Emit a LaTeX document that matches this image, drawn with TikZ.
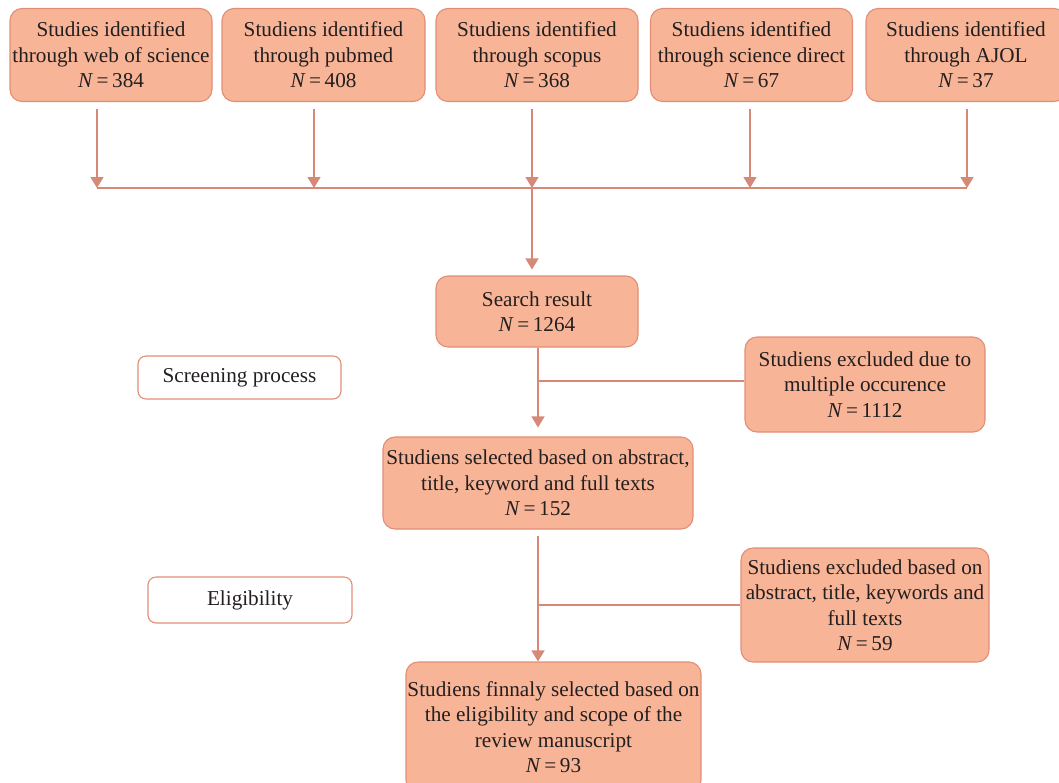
\documentclass[tikz,border=0pt]{standalone}
\usepackage{fontspec}
\setmainfont{Liberation Serif}
\usetikzlibrary{arrows.meta,calc}
\definecolor{boxfill}{RGB}{247,180,150}
\definecolor{boxdraw}{RGB}{226,142,118}
\definecolor{linec}{RGB}{214,137,118}
\definecolor{txt}{RGB}{35,31,32}
\tikzset{
  box/.style={draw=boxdraw, line width=1.1pt, fill=boxfill, rounded corners=12pt,
    align=center, text=txt, inner sep=0pt, font=\fontsize{21.2}{25.5}\selectfont},
  wbox/.style={draw=boxdraw, line width=1.1pt, fill=white, rounded corners=8pt,
    align=center, text=txt, inner sep=0pt, font=\fontsize{21.2}{25.5}\selectfont},
  conn/.style={draw=linec, line width=1.4pt},
  arr/.style={conn, -{Triangle[width=13pt,length=11pt]}}
}
\newcommand{\NN}[1]{\textit{N}\,=\,#1}
\begin{document}
\begin{tikzpicture}[x=1pt,y=-1pt]
\useasboundingbox (0,0) rectangle (1059,782);
% top boxes
\node[box, minimum width=202pt, minimum height=93pt] (t1) at (111,55) {Studies identified\\through web of science\\\NN{384}};
\node[box, minimum width=203pt, minimum height=93pt] (t2) at (323.5,55) {Studiens identified\\through pubmed\\\NN{408}};
\node[box, minimum width=202pt, minimum height=93pt] (t3) at (537,55) {Studiens identified\\through scopus\\\NN{368}};
\node[box, minimum width=202pt, minimum height=93pt] (t4) at (751.5,55) {Studiens identified\\through science direct\\\NN{67}};
\node[box, minimum width=200pt, minimum height=93pt] (t5) at (966,55) {Studiens identified\\through AJOL\\\NN{37}};
% junction points
\coordinate (j1) at (97,188);
\coordinate (j2) at (314,188);
\coordinate (j3) at (532,188);
\coordinate (j4) at (750,188);
\coordinate (j5) at (967,188);
\draw[arr, shorten <=7pt] (j1 |- t1.south) -- (j1);
\draw[arr, shorten <=7pt] (j2 |- t2.south) -- (j2);
\draw[arr, shorten <=7pt] (j3 |- t3.south) -- (j3);
\draw[arr, shorten <=7pt] (j4 |- t4.south) -- (j4);
\draw[arr, shorten <=7pt] (j5 |- t5.south) -- (j5);
\draw[conn] (j1) -- (j5);
% middle
\node[box, minimum width=202pt, minimum height=71pt] (search) at (537,311.5) {Search result\\\NN{1264}};
\draw[arr, shorten >=6pt] (j3) -- (j3 |- search.north);
\node[wbox, minimum width=203pt, minimum height=43pt] (screen) at (239.5,377.5) {Screening process};
\node[box, minimum width=240pt, minimum height=95pt] (excl1) at (865,384.5) {Studiens excluded due to\\multiple occurence\\\NN{1112}};
\node[box, minimum width=310pt, minimum height=92pt] (sel) at (538,483) {Studiens selected based on abstract,\\title, keyword and full texts\\\NN{152}};
\coordinate (b1) at (538,381);
\draw[arr, shorten >=9pt] (b1 |- search.south) -- (b1 |- sel.north);
\draw[conn] (b1) -- (b1 -| excl1.west);
% lower
\node[wbox, minimum width=204pt, minimum height=46pt] (elig) at (250,600) {Eligibility};
\node[box, minimum width=248pt, minimum height=114pt] (excl2) at (865,605) {Studiens excluded based on\\abstract, title, keywords and\\full texts\\\NN{59}};
\node[box, minimum width=295pt, minimum height=130pt] (final) at (553.5,727) {Studiens finnaly selected based on\\the eligibility and scope of the\\review manuscript\\\NN{93}};
\coordinate (b2) at (538,605);
\draw[arr, shorten <=6pt] (b2 |- sel.south) -- (b2 |- final.north);
\draw[conn] (b2) -- (b2 -| excl2.west);
\end{tikzpicture}
\end{document}
